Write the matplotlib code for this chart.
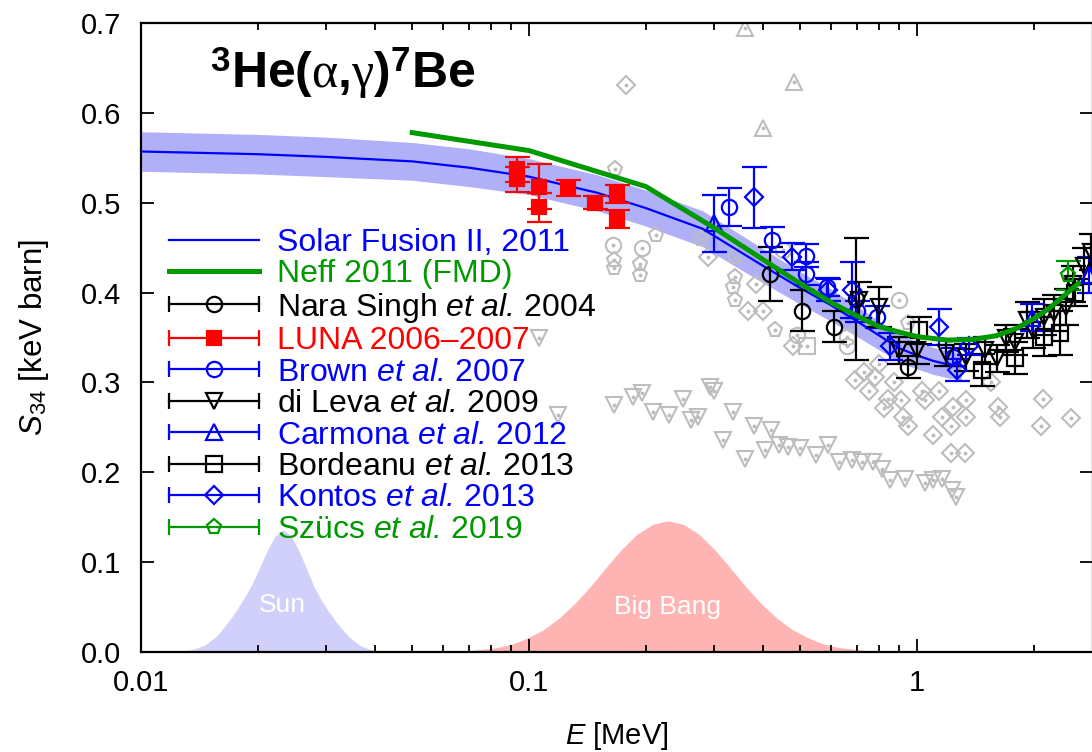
import numpy as np
import matplotlib
matplotlib.use("Agg")
import matplotlib.pyplot as plt
from matplotlib.lines import Line2D
from matplotlib.legend_handler import HandlerBase
from matplotlib.ticker import FixedLocator, FixedFormatter, LogLocator, NullFormatter, FormatStrFormatter

plt.rcParams['font.family'] = ['Liberation Sans', 'DejaVu Sans']
plt.rcParams['mathtext.fontset'] = 'custom'
plt.rcParams['mathtext.rm'] = 'Liberation Sans'
plt.rcParams['mathtext.it'] = 'Liberation Serif'
plt.rcParams['mathtext.bf'] = 'Liberation Sans:bold'
plt.rcParams['mathtext.sf'] = 'Liberation Sans:italic'

# Solar Fusion II recommended S-factor and its band
sf_E = [0.01, 0.02, 0.03, 0.05, 0.07, 0.1, 0.15, 0.2, 0.28, 0.4, 0.5, 0.6, 0.7, 0.8, 0.9, 1.0, 1.1, 1.2, 1.3]
sf_S = [0.557, 0.554, 0.551, 0.546, 0.539, 0.529, 0.511, 0.494, 0.471, 0.430, 0.405, 0.386, 0.368,
        0.352, 0.338, 0.330, 0.324, 0.320, 0.318]
sf_err = [0.022, 0.022, 0.022, 0.021, 0.021, 0.020, 0.020, 0.020, 0.020, 0.019, 0.018, 0.018, 0.017,
          0.016, 0.016, 0.015, 0.015, 0.015, 0.015]

# Neff 2011 fermionic molecular dynamics
neff_E = [0.05, 0.1, 0.2, 0.3, 0.4, 0.5, 0.6, 0.7, 0.8, 0.9, 1.0, 1.2, 1.4, 1.6, 1.8, 2.0, 2.2, 2.4, 2.6]
neff_S = [0.578, 0.558, 0.518, 0.472, 0.437, 0.410, 0.389, 0.374, 0.362, 0.356, 0.351, 0.347, 0.348,
          0.352, 0.360, 0.371, 0.383, 0.397, 0.410]

# Gamow windows (arbitrary height)
sun_E = [0.01246, 0.01366, 0.01464, 0.01569, 0.01680, 0.01760, 0.01843, 0.01930, 0.02021, 0.02116,
         0.02216, 0.0232, 0.02429, 0.02544, 0.02664, 0.02789, 0.02921, 0.03058, 0.03202, 0.03431,
         0.03677, 0.03940, 0.04222]
sun_S = [0.000, 0.003, 0.008, 0.018, 0.034, 0.046, 0.060, 0.075, 0.094, 0.113, 0.129, 0.136, 0.130,
         0.114, 0.094, 0.073, 0.057, 0.044, 0.032, 0.017, 0.007, 0.002, 0.000]
bbn_E = [0.0688, 0.0755, 0.0828, 0.0908, 0.0996, 0.1092, 0.1197, 0.1312, 0.1439, 0.1578, 0.1730,
         0.1897, 0.2080, 0.228, 0.2500, 0.2741, 0.3006, 0.3295, 0.3614, 0.3963, 0.4344, 0.4763,
         0.5223, 0.5727, 0.6279, 0.6885, 0.7549]
bbn_S = [0.001, 0.003, 0.005, 0.009, 0.016, 0.025, 0.038, 0.054, 0.073, 0.094, 0.114, 0.131, 0.142,
         0.146, 0.142, 0.131, 0.114, 0.094, 0.073, 0.054, 0.038, 0.025, 0.016, 0.009, 0.005, 0.003,
         0.001]

# modern data sets
nara_E = [0.418, 0.505, 0.612, 0.697, 0.95]
nara_S = [0.421, 0.380, 0.362, 0.393, 0.317]
nara_err = [0.030, 0.023, 0.017, 0.068, 0.012]

luna_E = [0.093, 0.093, 0.106, 0.106, 0.126, 0.148, 0.169, 0.169]
luna_S = [0.537, 0.526, 0.518, 0.495, 0.516, 0.500, 0.510, 0.482]
luna_err = [0.014, 0.014, 0.025, 0.016, 0.009, 0.007, 0.010, 0.010]

brown_E = [0.327, 0.424, 0.518, 0.518, 0.585, 0.70, 0.79, 1.24]
brown_S = [0.495, 0.459, 0.441, 0.421, 0.406, 0.379, 0.373, 0.328]
brown_err = [0.021, 0.014, 0.013, 0.013, 0.010, 0.012, 0.012, 0.010]

dileva_E = [0.71, 0.80, 0.90, 1.00, 1.19, 1.34, 1.50, 1.61, 1.69, 1.79, 1.92, 1.99, 2.12, 2.25, 2.42,
            2.52, 2.70, 2.80]
dileva_S = [0.392, 0.384, 0.336, 0.336, 0.333, 0.328, 0.336, 0.327, 0.349, 0.345, 0.369, 0.358, 0.373,
            0.377, 0.384, 0.410, 0.430, 0.445]
dileva_err = [0.020, 0.022, 0.015, 0.015, 0.015, 0.015, 0.015, 0.015, 0.015, 0.015, 0.020, 0.020,
              0.020, 0.020, 0.020, 0.020, 0.020, 0.020]

carmona_E = [0.30, 1.98, 2.78]
carmona_S = [0.477, 0.372, 0.420]
carmona_err = [0.032, 0.015, 0.020]

bordeanu_E = [1.01, 1.47, 1.79, 2.12, 2.34, 2.55]
bordeanu_S = [0.358, 0.314, 0.327, 0.351, 0.355, 0.400]
bordeanu_err = [0.015, 0.018, 0.018, 0.022, 0.025, 0.015]

kontos_E = [0.38, 0.475, 0.59, 0.68, 0.85, 1.14, 1.27, 1.36]
kontos_S = [0.506, 0.440, 0.403, 0.403, 0.340, 0.362, 0.314, 0.340]
kontos_err = [0.034, 0.015, 0.012, 0.031, 0.015, 0.020, 0.012, 0.010]

szucs_E = [2.45]
szucs_S = [0.419]
szucs_err = [0.016]

# older measurements, drawn in grey
old_tri_up_E = [0.361, 0.483, 0.40]
old_tri_up_S = [0.694, 0.634, 0.583]
old_diam_E = [0.178, 0.29, 0.366, 0.40, 0.385, 0.478, 0.69, 0.73, 0.75, 0.78, 0.80, 0.82, 0.84, 0.87,
              0.91, 0.92, 0.95, 1.03, 1.05, 1.14, 1.10, 1.16, 1.22, 1.24, 1.34, 1.34, 1.22, 1.33, 1.62,
              1.64, 1.55, 2.11, 2.09, 2.49]
old_diam_S = [0.631, 0.440, 0.379, 0.380, 0.410, 0.340, 0.303, 0.312, 0.291, 0.306, 0.321, 0.271, 0.282,
              0.301, 0.280, 0.262, 0.251, 0.291, 0.280, 0.291, 0.241, 0.262, 0.251, 0.273, 0.280, 0.262,
              0.221, 0.221, 0.273, 0.262, 0.301, 0.282, 0.251, 0.260]
old_pent_E = [0.167, 0.213, 0.166, 0.166, 0.193, 0.193, 0.278, 0.34, 0.34, 0.335, 0.34, 0.43, 0.95]
old_pent_S = [0.538, 0.464, 0.436, 0.427, 0.432, 0.419, 0.460, 0.440, 0.417, 0.406, 0.392, 0.358, 0.366]
old_circ_E = [0.165, 0.195, 0.45, 0.49, 0.66, 0.66, 0.90]
old_circ_S = [0.453, 0.450, 0.447, 0.353, 0.340, 0.351, 0.392]
old_sq_E = [0.52]
old_sq_S = [0.341]
old_tri_dn_E = [0.106, 0.119, 0.166, 0.185, 0.195, 0.209, 0.229, 0.25, 0.262, 0.272, 0.292, 0.30, 0.316,
                0.336, 0.36, 0.38, 0.405, 0.42, 0.44, 0.465, 0.50, 0.55, 0.59, 0.63, 0.68, 0.72, 0.77,
                0.81, 0.85, 0.93, 1.05, 1.10, 1.16, 1.23, 1.26]
old_tri_dn_S = [0.349, 0.264, 0.275, 0.284, 0.288, 0.267, 0.264, 0.282, 0.258, 0.262, 0.295, 0.290,
                0.236, 0.267, 0.215, 0.251, 0.225, 0.247, 0.230, 0.228, 0.227, 0.219, 0.230, 0.212,
                0.214, 0.212, 0.212, 0.204, 0.191, 0.193, 0.188, 0.191, 0.193, 0.180, 0.173]

BLUE = '#0000ff'
GREEN = '#009900'
RED = '#ff0000'
GREY = '#bdbdbd'


class HandlerCapLine(HandlerBase):
    # horizontal bar with end caps and the point marker in the middle
    def create_artists(self, legend, orig_handle, xdescent, ydescent, width, height, fontsize, trans):
        y = height / 2 - ydescent
        x0, x1 = -xdescent, width - xdescent
        c = orig_handle.get_color()
        bar = Line2D([x0, x1], [y, y], color=c, lw=1.6)
        caps = Line2D([x0, x1], [y, y], ls='none', marker='|', ms=11, mew=1.6, color=c)
        pt = Line2D([(x0 + x1) / 2], [y], ls='none', marker=orig_handle.get_marker(),
                    ms=orig_handle.get_markersize(), mfc=orig_handle.get_markerfacecolor(),
                    mec=c, mew=1.6)
        for a in (bar, caps, pt):
            a.set_transform(trans)
        return [bar, caps, pt]


fig = plt.figure(figsize=(10.92, 7.52), dpi=100)
ax = fig.add_axes([141 / 1092, 100 / 752, 952 / 1092, 629 / 752])

ax.fill_between(sun_E, 0, sun_S, color='#d0d0fa', lw=0, zorder=1)
ax.fill_between(bbn_E, 0, bbn_S, color='#ffb4b4', lw=0, zorder=1)
ax.text(0.0232, 0.052, 'Sun', color='white', fontsize=19, ha='center', va='center', zorder=1.2)
ax.text(0.228, 0.050, 'Big Bang', color='white', fontsize=19, ha='center', va='center', zorder=1.2)

sf_lo = np.array(sf_S) - np.array(sf_err)
sf_hi = np.array(sf_S) + np.array(sf_err)
ax.fill_between(sf_E, sf_lo, sf_hi, color='#b0b0f8', lw=0, zorder=1.5)

grey_kw = dict(ls='none', mfc='none', mec=GREY, mew=1.5, zorder=2)
for xs, ys, m in [(old_tri_up_E, old_tri_up_S, '^'), (old_diam_E, old_diam_S, 'D'),
                  (old_pent_E, old_pent_S, 'p'), (old_circ_E, old_circ_S, 'o'),
                  (old_sq_E, old_sq_S, 's'), (old_tri_dn_E, old_tri_dn_S, 'v')]:
    ms = 9 if m == 'D' else 11
    ax.plot(xs, ys, marker=m, ms=ms, **grey_kw)
    ax.plot(xs, ys, ls='none', marker='o', ms=1.8, color=GREY, zorder=2)

sf_line, = ax.plot(sf_E, sf_S, color=BLUE, lw=1.6, zorder=3)

err_kw = dict(ls='none', mew=1.6, elinewidth=1.6, capsize=9, capthick=1.6, zorder=4)
sets = [
    (nara_E, nara_S, nara_err, 'o', 'black', 'none'),
    (luna_E, luna_S, luna_err, 's', RED, RED),
    (brown_E, brown_S, brown_err, 'o', BLUE, 'none'),
    (dileva_E, dileva_S, dileva_err, 'v', 'black', 'none'),
    (carmona_E, carmona_S, carmona_err, '^', BLUE, 'none'),
    (bordeanu_E, bordeanu_S, bordeanu_err, 's', 'black', 'none'),
    (kontos_E, kontos_S, kontos_err, 'D', BLUE, 'none'),
    (szucs_E, szucs_S, szucs_err, 'p', GREEN, 'none'),
]
proxies = []
for xs, ys, es, m, c, fc in sets:
    ms = 9 if m == 'D' else (10 if fc != 'none' else 11)
    ax.errorbar(xs, ys, yerr=es, fmt=m, color=c, mfc=fc, mec=c, ms=ms, **err_kw)
    proxies.append(Line2D([], [], color=c, marker=m, mfc=fc, ms=ms))

neff_line, = ax.plot(neff_E, neff_S, color=GREEN, lw=3.6, zorder=5)

ax.set_xscale('log')
ax.set_xlim(0.01, 2.84)
ax.set_ylim(0.0, 0.7)
ax.xaxis.set_major_locator(FixedLocator([0.01, 0.1, 1]))
ax.xaxis.set_major_formatter(FixedFormatter(['0.01', '0.1', '1']))
ax.xaxis.set_minor_locator(LogLocator(base=10, subs=np.arange(2, 10)))
ax.xaxis.set_minor_formatter(NullFormatter())
ax.set_yticks(np.arange(0, 0.71, 0.1))
ax.yaxis.set_major_formatter(FormatStrFormatter('%.1f'))
ax.tick_params(which='both', direction='in', top=True, right=True, width=1.3, labelsize=21)
ax.tick_params(which='major', length=9.5)
ax.tick_params(which='minor', length=5)
ax.tick_params(axis='x', pad=12)
ax.tick_params(axis='y', pad=14)
for s in ax.spines.values():
    s.set_linewidth(1.6)

ax.set_xlabel(r'$\mathsf{E}$ [MeV]', fontsize=21, labelpad=17)
ax.set_ylabel(r'$\mathsf{S}_{\mathrm{34}}$ [keV barn]', fontsize=22.5)
ax.yaxis.set_label_coords(-0.095, 0.5)

fig.text(210 / 1092, 1 - 88 / 752,
         r'$^{\mathbf{3}}\mathbf{He(}\alpha\mathbf{,}\gamma\mathbf{)}^{\mathbf{7}}\mathbf{Be}$',
         fontsize=36, ha='left', va='baseline')

labels = ['Solar Fusion II, 2011', 'Neff 2011 (FMD)',
          r'Nara Singh $\mathsf{et\ al.}\,$2004', 'LUNA 2006\u20132007',
          r'Brown $\mathsf{et\ al.}\,$2007', r'di Leva $\mathsf{et\ al.}\,$2009',
          r'Carmona $\mathsf{et\ al.}\,$2012', r'Bordeanu $\mathsf{et\ al.}\,$2013',
          r'Kontos $\mathsf{et\ al.}\,$2013', 'Szücs $\\mathsf{et\\ al.}\\,$2019']
label_colors = [BLUE, GREEN, 'black', RED, BLUE, 'black', BLUE, 'black', BLUE, GREEN]
handles = [sf_line, neff_line] + proxies
leg = ax.legend(handles, labels, loc='upper left', bbox_to_anchor=(0.0294, 0.6745),
                frameon=False, fontsize=23, borderpad=0, borderaxespad=0,
                handlelength=2.82, handletextpad=0.574, labelspacing=0.046,
                labelcolor=label_colors,
                handler_map={p: HandlerCapLine() for p in proxies})
leg.set_zorder(6)

fig.savefig('out.png', dpi=100)
